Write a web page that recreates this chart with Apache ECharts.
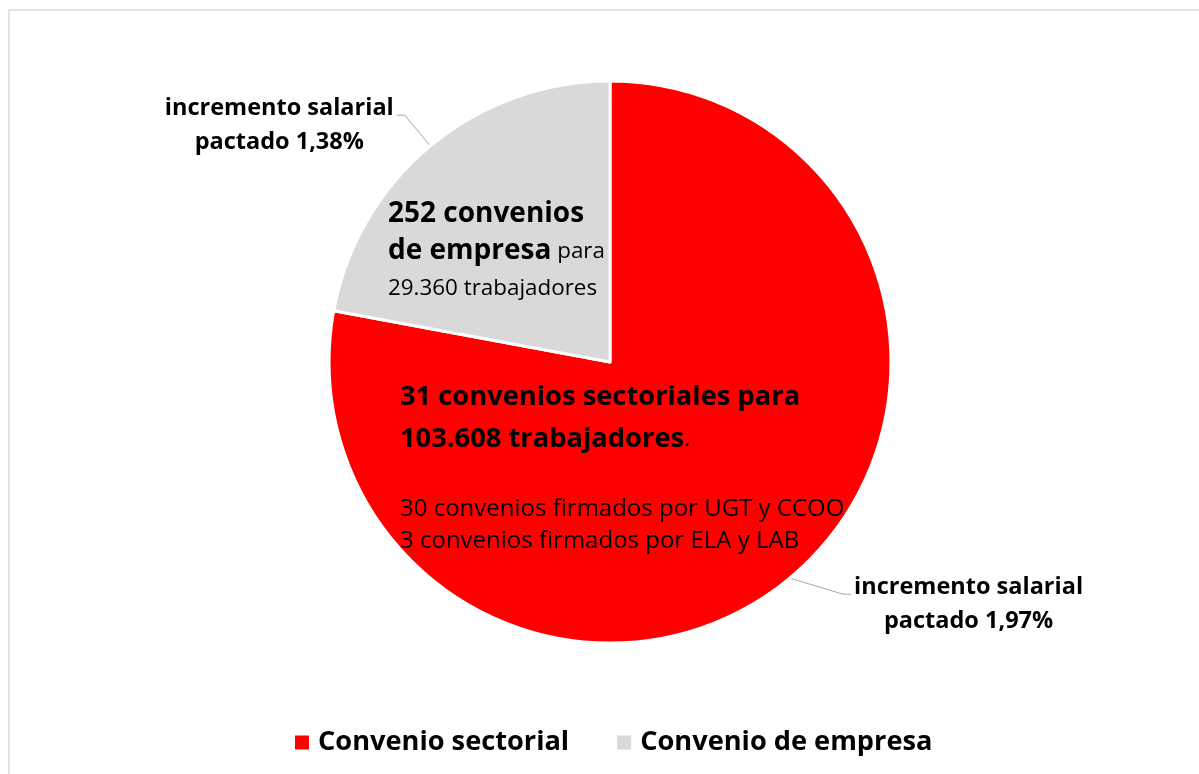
<!DOCTYPE html>
<html>
<head>
<meta charset="utf-8">
<script src="https://cdn.jsdelivr.net/npm/echarts@6/dist/echarts.min.js"></script>
<style>
  html, body { margin: 0; padding: 0; background: #fff; }
  #chart { width: 1199px; height: 774px; }
</style>
</head>
<body>
<div id="chart"></div>
<script>
// ---- data ----
const categories = ['Convenio sectorial', 'Convenio de empresa'];
const workers = [103608, 29360];
const agreements = [31, 252];
const wageIncrease = [1.97, 1.38];
const signerCounts = [30, 3];
const signerUnions = ['UGT y CCOO', 'ELA y LAB'];
const colors = ['#FF0000', '#D9D9D9'];

const FONT = '"Open Sans", "Noto Sans", sans-serif';

function fmtThousands(n) {
  return String(n).replace(/\B(?=(\d{3})+(?!\d))/g, '.');
}
function fmtDec(v) {
  return v.toFixed(2).replace('.', ',');
}

const chart = echarts.init(document.getElementById('chart'), null, { renderer: 'canvas' });

const pieData = categories.map((c, i) => ({
  name: c,
  value: workers[i],
  itemStyle: { color: colors[i] },
  labelLine: i === 0 ? { length: 21, length2: 48 } : { length: 40, length2: 8 }
}));

const option = {
  backgroundColor: '#ffffff',
  animation: false,
  legend: {
    data: categories,
    top: 724,
    left: 290,
    icon: 'rect',
    itemWidth: 14,
    itemHeight: 14,
    itemGap: 48,
    itemStyle: { borderWidth: 0 },
    textStyle: { fontFamily: FONT, fontWeight: 'bold', fontSize: 27.2, color: '#000', padding: [0, 0, 0, 4] }
  },
  series: [{
    type: 'pie',
    center: [610, 362],
    radius: 281,
    startAngle: 90,
    clockwise: true,
    data: pieData,
    itemStyle: { borderColor: '#ffffff', borderWidth: 3 },
    label: {
      show: true,
      position: 'outside',
      distanceToLabelLine: 0,
      formatter: p => '{c|incremento salarial}\n{c|pactado ' + fmtDec(wageIncrease[p.dataIndex]) + '%}',
      padding: [20, 3, 0, 3],
      rich: {
        c: { align: 'center', fontFamily: FONT, fontWeight: 'bold', fontSize: 23.5, lineHeight: 34, color: '#000' }
      }
    },
    labelLine: {
      show: true,
      lineStyle: { color: '#A6A6A6', width: 1 }
    },
    labelLayout: function (params) {
      const pts = params.labelLinePoints;
      if (!pts || pts.length < 3) return {};
      const end = pts[2];
      const dir = end[0] < pts[0][0] ? 1 : -1;
      return { labelLinePoints: [pts[0], [end[0] + dir * 8, end[1]], end] };
    },
    emphasis: { disabled: true }
  }],
  graphic: [
    {
      type: 'rect',
      z: 100,
      shape: { x: 9, y: 10, width: 1200, height: 800 },
      style: { fill: 'none', stroke: '#D9D9D9', lineWidth: 1.5 },
      silent: true
    },
    {
      type: 'text',
      z: 100,
      x: 388, y: 196,
      style: {
        text: '{b|' + agreements[1] + ' convenios}\n{b|de empresa}{r| para}\n{r|' + fmtThousands(workers[1]) + ' trabajadores}',
        rich: {
          b: { fontFamily: FONT, fontWeight: 'bold', fontSize: 28, lineHeight: 37, fill: '#000' },
          r: { fontFamily: FONT, fontSize: 22.4, lineHeight: 37, fill: '#000' }
        }
      }
    },
    {
      type: 'text',
      z: 100,
      x: 400, y: 376,
      style: {
        text: '{b|' + agreements[0] + ' convenios sectoriales para}\n{b|' + fmtThousands(workers[0]) + ' trabajadores}{r|.}',
        rich: {
          b: { fontFamily: FONT, fontWeight: 'bold', fontSize: 27.3, lineHeight: 42, fill: '#000' },
          r: { fontFamily: FONT, fontSize: 24, lineHeight: 42, fill: '#000' }
        }
      }
    },
    {
      type: 'text',
      z: 100,
      x: 400, y: 493,
      style: {
        text: signerCounts.map((n, i) => n + ' convenios firmados por ' + signerUnions[i]).join('\n'),
        fontFamily: FONT, fontSize: 24, lineHeight: 32, fill: '#000'
      }
    }
  ]
};

chart.setOption(option);
</script>
</body>
</html>
